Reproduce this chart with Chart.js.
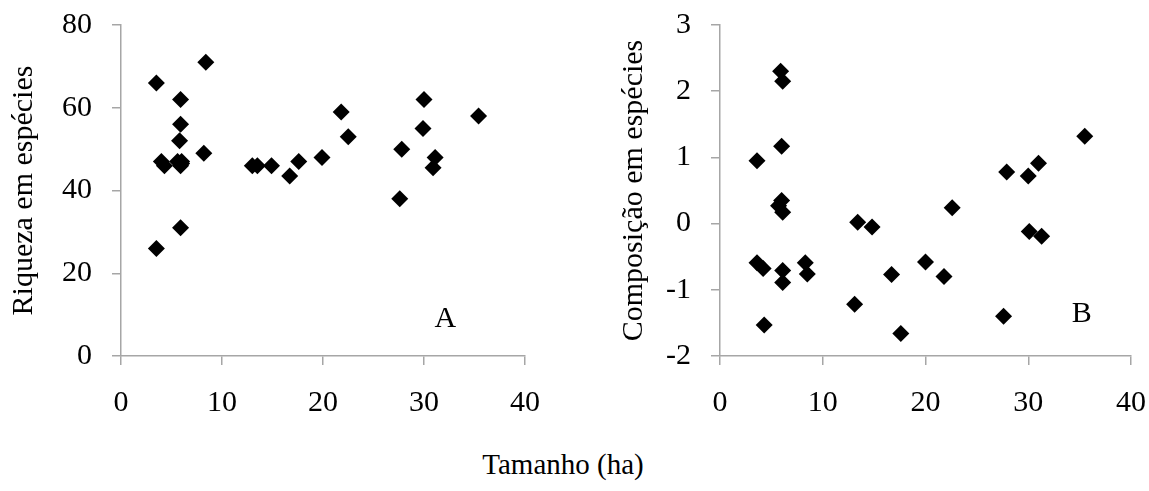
<!DOCTYPE html>
<html>
<head>
<meta charset="utf-8">
<script src="https://cdn.jsdelivr.net/npm/chart.js@4"></script>
<style>
  body { margin: 0; background: #fff; }
  #wrap { position: relative; width: 1149px; height: 491px; }
  canvas { position: absolute; top: 0; }
  #xtitle { position: absolute; left: 0; width: 1126px; top: 447px; text-align: center;
            font-family: "Liberation Serif", "Times New Roman", serif; font-size: 29px; line-height: 34px; color: #000; }
</style>
</head>
<body>
<div id="wrap">
  <canvas id="chartA" width="560" height="420" style="left:0px"></canvas>
  <canvas id="chartB" width="556" height="420" style="left:610px"></canvas>
  <div id="xtitle">Tamanho (ha)</div>
</div>
<script>
// painel A - riqueza
var tamanhoA = [3.5, 3.5, 4.0, 4.3, 5.6, 5.9, 5.9, 5.8, 5.9, 6.0, 6.0, 5.9, 8.2, 8.4, 13.0, 13.5, 14.9, 16.7, 17.6, 19.9, 21.8, 22.5, 27.6, 27.8, 29.9, 30.0, 30.9, 31.1, 35.4];
var riquezaA = [66, 26, 47, 46, 47, 62, 56, 52, 46, 47, 46.5, 31, 49, 71, 46, 46, 46, 43.5, 47, 48, 59, 53, 38, 50, 55, 62, 45.5, 48, 58];
// painel B - composicao
var tamanhoB = [3.6, 3.6, 4.2, 4.3, 5.7, 5.9, 6.1, 6.0, 6.0, 6.1, 6.1, 6.1, 8.3, 8.5, 13.1, 13.4, 14.8, 16.7, 17.6, 20.0, 21.8, 22.6, 27.6, 27.9, 30.0, 30.1, 31.0, 31.3, 35.5];
var composicaoB = [0.95, -0.59, -0.68, -1.53, 0.27, 2.30, 2.15, 1.17, 0.35, 0.17, -0.71, -0.89, -0.59, -0.76, -1.22, 0.02, -0.05, -0.77, -1.66, -0.58, -0.80, 0.24, -1.40, 0.78, 0.72, -0.12, 0.91, -0.19, 1.32];

var xTicks = [0, 10, 20, 30, 40];
var yTicksA = [0, 20, 40, 60, 80];
var yTicksB = [-2, -1, 0, 1, 2, 3];

var serif = '"Liberation Serif", "Times New Roman", serif';
var grey = '#a6a6a6';

function pts(xs, ys) {
  return xs.map(function (x, i) { return {x: x, y: ys[i]}; });
}

// letra do painel, posicionada pelas escalas
var panelLetter = {
  id: 'panelLetter',
  afterDatasetsDraw: function (chart, args, opts) {
    var ctx = chart.ctx;
    ctx.save();
    ctx.font = '30px ' + serif;
    ctx.fillStyle = '#000';
    ctx.textAlign = 'center';
    ctx.textBaseline = 'middle';
    ctx.fillText(opts.text, chart.scales.x.getPixelForValue(opts.x), chart.scales.y.getPixelForValue(opts.y));
    ctx.restore();
  }
};

function makeChart(id, data, yTicks, yTitle, yWidth, titlePad, letter) {
  return new Chart(document.getElementById(id), {
    type: 'scatter',
    data: {
      datasets: [{
        data: data,
        pointStyle: 'rectRot',
        pointRadius: 8.5,
        pointHoverRadius: 8.5,
        backgroundColor: '#000',
        borderWidth: 0
      }]
    },
    plugins: [panelLetter],
    options: {
      responsive: false,
      animation: false,
      events: [],
      layout: { padding: { left: 0, right: 35, top: 25, bottom: 0 } },
      plugins: {
        legend: { display: false },
        tooltip: { enabled: false },
        panelLetter: letter
      },
      scales: {
        x: {
          type: 'linear',
          min: xTicks[0], max: xTicks[xTicks.length - 1],
          afterBuildTicks: function (s) { s.ticks = xTicks.map(function (v) { return {value: v}; }); },
          afterFit: function (s) { s.height = 64; s.paddingLeft = 0; s.paddingRight = 0; },
          grid: { drawOnChartArea: false, color: grey, lineWidth: 1.5, tickLength: 9 },
          border: { color: grey, width: 1.5 },
          ticks: { color: '#000', font: { family: serif, size: 30 }, padding: 20, maxRotation: 0 }
        },
        y: {
          type: 'linear',
          min: yTicks[0], max: yTicks[yTicks.length - 1],
          afterBuildTicks: function (s) { s.ticks = yTicks.map(function (v) { return {value: v}; }); },
          afterFit: function (s) { s.width = yWidth; s.paddingTop = 0; s.paddingBottom = 0; },
          grid: { drawOnChartArea: false, color: grey, lineWidth: 1.5, tickLength: 9 },
          border: { color: grey, width: 1.5 },
          ticks: { color: '#000', font: { family: serif, size: 30 }, padding: 20 },
          title: { display: true, text: yTitle, color: '#000', font: { family: serif, size: 30 }, padding: { top: titlePad, bottom: 0 } }
        }
      }
    }
  });
}

makeChart('chartA', pts(tamanhoA, riquezaA), yTicksA, 'Riqueza em espécies', 121, 6, { text: 'A', x: 32.1, y: 9 });
makeChart('chartB', pts(tamanhoB, composicaoB), yTicksB, 'Composição em espécies', 110, 6.5, { text: 'B', x: 35.2, y: -1.36 });
</script>
</body>
</html>
